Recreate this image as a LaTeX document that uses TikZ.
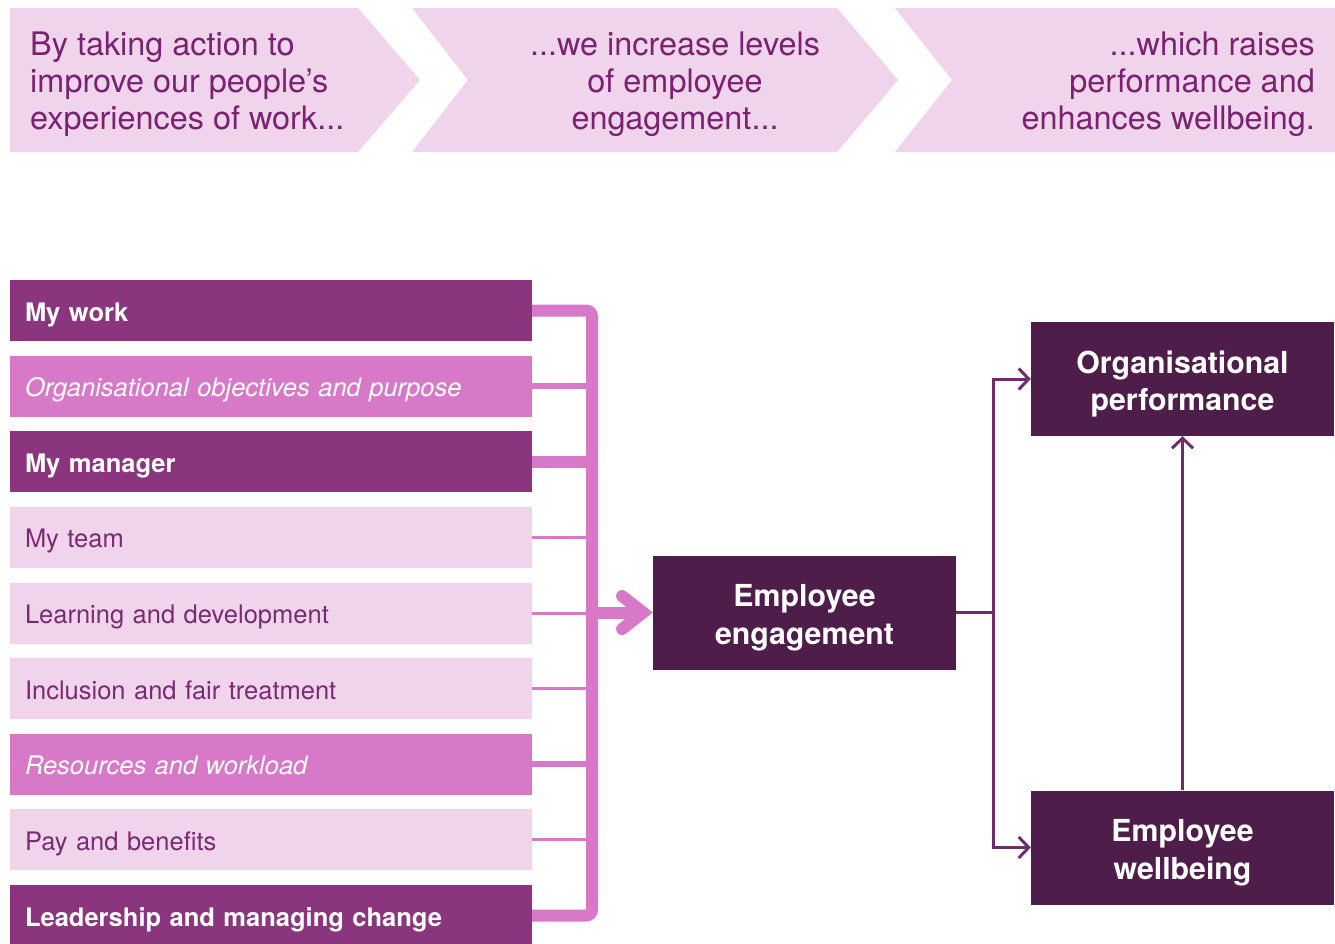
\documentclass[tikz,border=0pt]{standalone}
\usepackage{fontspec}
\setmainfont{TeX Gyre Heros}
\usetikzlibrary{arrows.meta}

\definecolor{chevfill}{HTML}{F0D4EC}
\definecolor{chevtext}{HTML}{7A2171}
\definecolor{rowdark}{HTML}{8A357E}
\definecolor{rowmid}{HTML}{D878C8}
\definecolor{rowlight}{HTML}{F0D4EC}
\definecolor{rowtext}{HTML}{7A2A72}
\definecolor{bracket}{HTML}{D878C8}
\definecolor{outbox}{HTML}{4E1D4A}
\definecolor{outline}{HTML}{6F2B6B}

\tikzset{
  chevtxt/.style={text=chevtext, inner sep=0pt, font=\fontsize{32.4}{37}\selectfont},
  rowbox/.style={minimum width=522pt, minimum height=61pt, text width=492pt,
    inner xsep=15pt, inner ysep=0pt, text height=21pt, text depth=0pt,
    align=left, font=\fontsize{25.5}{30}\selectfont},
  dark/.style={rowbox, fill=rowdark, text=white, font=\fontsize{25.5}{30}\selectfont\bfseries},
  mid/.style={rowbox, fill=rowmid, text=white, font=\fontsize{25.5}{30}\selectfont\itshape},
  light/.style={rowbox, fill=rowlight, text=rowtext},
  outcome/.style={fill=outbox, text=white, minimum width=303pt, minimum height=114pt,
    inner sep=0pt, text height=69.5pt, text depth=6.5pt, align=center,
    font=\fontsize{30.3}{37.5}\selectfont\bfseries},
  feed/.style={draw=bracket},
  flow/.style={draw=outline, line width=3pt,
    -{Straight Barb[length=10pt, width=21pt]}},
}

\begin{document}
\begin{tikzpicture}[x=1pt, y=-1pt]
\useasboundingbox (0,0) rectangle (1335,943);

% banner of three chevrons
\fill[chevfill] (10,8) -- (358,8) -- (420,80) -- (358,152) -- (10,152) -- cycle;
\fill[chevfill] (412,8) -- (837,8) -- (898,80) -- (837,152) -- (412,152) -- (468,80) -- cycle;
\fill[chevfill] (895,8) -- (1335,8) -- (1335,152) -- (895,152) -- (952,80) -- cycle;

\node[chevtxt, anchor=west, align=left] (t1) at (30,84)
  {By taking action to\\improve our people’s\\experiences of work...};
\node[chevtxt, align=center] (t2) at (675,84)
  {...we increase levels\\of employee\\engagement...};
\node[chevtxt, anchor=east, align=right] (t3) at (1315,84)
  {...which raises\\performance and\\enhances wellbeing.};

% drivers
\node[dark]  (r1) at (271,310.5) {My work};
\node[mid]   (r2) at (271,386.1) {Organisational objectives and purpose};
\node[dark]  (r3) at (271,461.8) {My manager};
\node[light] (r4) at (271,537.4) {My team};
\node[light] (r5) at (271,613.0) {Learning and development};
\node[light] (r6) at (271,688.6) {Inclusion and fair treatment};
\node[mid]   (r7) at (271,764.3) {Resources and workload};
\node[light] (r8) at (271,839.9) {Pay and benefits};
\node[dark]  (r9) at (271,915.5) {Leadership and managing change};

% outcomes
\node[outcome] (eng) at (804.5,612.5) {Employee\\engagement};
\node[outcome] (op)  at (1182.5,379)  {Organisational\\performance};
\node[outcome] (wb)  at (1182.5,847.5) {Employee\\wellbeing};

% collecting bracket
\coordinate (bx) at (592,0);
\draw[feed, line width=12pt, rounded corners=6pt]
  (r1.east) -- (r1.east -| bx) -- (r9.east -| bx) -- (r9.east);
\draw[feed, line width=6pt] (r2.east) -- (r2.east -| bx);
\draw[feed, line width=12pt] (r3.east) -- (r3.east -| bx);
\foreach \r in {r4,r5,r6,r8}
  \draw[feed, line width=3pt] (\r.east) -- (\r.east -| bx);
\draw[feed, line width=6pt] (r7.east) -- (r7.east -| bx);

\draw[feed, line width=12pt,
  -{Straight Barb[length=21pt, width=33pt, line cap=round]}]
  (bx |- eng.west) -- (eng.west);

% engagement to outcomes
\coordinate (jx) at (993,612.5);
\draw[draw=outline, line width=3pt] (eng.east) -- (jx);
\draw[flow] (jx) |- (op.west);
\draw[flow] (jx) |- (wb.west);
\draw[flow] (wb.north) -- (op.south);
\end{tikzpicture}
\end{document}
